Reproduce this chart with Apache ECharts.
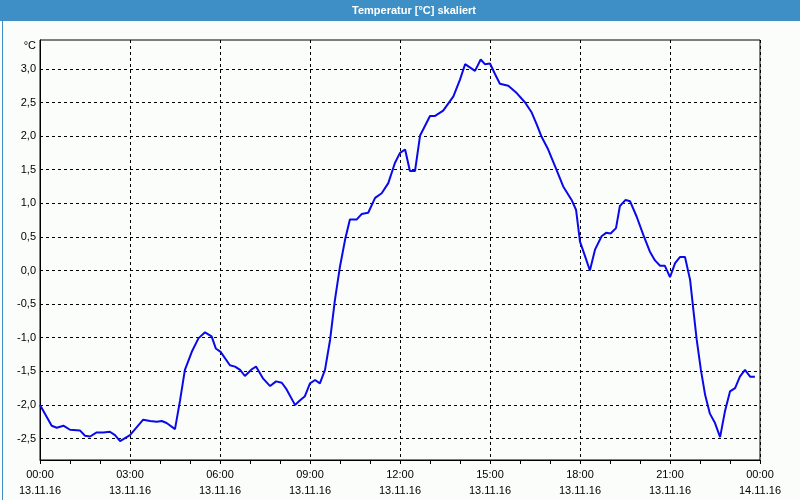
<!DOCTYPE html>
<html><head><meta charset="utf-8">
<script src="https://cdn.jsdelivr.net/npm/echarts@6/dist/echarts.min.js"></script>
<style>html,body{margin:0;padding:0;background:#fbfdfb;}#c{width:800px;height:500px;}</style>
</head><body><div id="c"></div>
<script>
// Hours since 13.11.16 00:00
const hours = [0,0.39,0.56,0.78,1.0,1.33,1.5,1.67,1.89,2.11,2.33,2.5,2.67,3.0,3.44,3.67,3.89,4.06,4.22,4.5,4.67,4.83,5.06,5.28,5.5,5.72,5.86,6.02,6.33,6.5,6.67,6.83,7.06,7.2,7.44,7.67,7.87,8.06,8.22,8.5,8.67,8.83,9.0,9.17,9.33,9.5,9.67,9.83,10.0,10.17,10.33,10.56,10.72,10.94,11.17,11.39,11.61,11.83,12.0,12.17,12.33,12.5,12.67,13.0,13.17,13.44,13.78,14.0,14.17,14.5,14.69,14.83,15.0,15.17,15.33,15.61,15.89,16.17,16.39,16.56,16.72,16.94,17.17,17.44,17.72,17.87,18.0,18.17,18.33,18.5,18.72,18.87,19.02,19.2,19.33,19.52,19.67,19.89,20.11,20.33,20.5,20.67,20.83,21.0,21.17,21.33,21.5,21.67,21.78,21.89,22.03,22.17,22.33,22.5,22.67,22.83,23.0,23.17,23.33,23.5,23.67,23.83];
const temps = [-2.0,-2.31,-2.34,-2.31,-2.37,-2.38,-2.46,-2.47,-2.41,-2.41,-2.40,-2.45,-2.54,-2.45,-2.22,-2.24,-2.25,-2.24,-2.27,-2.36,-1.93,-1.48,-1.21,-1.01,-0.92,-0.98,-1.16,-1.21,-1.41,-1.43,-1.48,-1.57,-1.47,-1.43,-1.61,-1.72,-1.65,-1.67,-1.77,-2.0,-1.93,-1.87,-1.68,-1.63,-1.68,-1.48,-1.03,-0.44,0.06,0.46,0.76,0.76,0.84,0.86,1.08,1.15,1.30,1.60,1.75,1.80,1.48,1.48,2.01,2.30,2.30,2.38,2.59,2.84,3.07,2.97,3.14,3.07,3.08,2.92,2.78,2.75,2.64,2.50,2.35,2.17,1.99,1.80,1.55,1.25,1.05,0.90,0.43,0.21,0.0,0.31,0.51,0.56,0.55,0.63,0.96,1.05,1.03,0.80,0.53,0.28,0.15,0.07,0.07,-0.10,0.11,0.20,0.20,-0.14,-0.59,-1.03,-1.48,-1.85,-2.13,-2.27,-2.48,-2.10,-1.80,-1.75,-1.58,-1.48,-1.58,-1.58];
const xTickTimes = ['00:00','03:00','06:00','09:00','12:00','15:00','18:00','21:00','00:00'];
const xTickDates = ['13.11.16','13.11.16','13.11.16','13.11.16','13.11.16','13.11.16','13.11.16','13.11.16','14.11.16'];
const yTicks = [-2.5,-2.0,-1.5,-1.0,-0.5,0.0,0.5,1.0,1.5,2.0,2.5,3.0];
const titleText = 'Temperatur [°C] skaliert';
const unitText = '°C';

const chart = echarts.init(document.getElementById('c'), null, {renderer:'canvas'});
const font = 'Liberation Sans';
chart.setOption({
  backgroundColor: '#fbfdfb',
  animation: false,
  graphic: [
    {type:'rect', left:0, top:0, shape:{width:800, height:21}, style:{fill:'#3d8fc6'}, z:10},
    {type:'rect', left:0, top:0, shape:{width:799, height:499}, style:{fill:'none', stroke:'#3d8fc6', lineWidth:1}, z:10},
    {type:'text', x:414, y:11, style:{text:titleText, fill:'#ffffff', font:'bold 11px "Liberation Sans"', align:'center', verticalAlign:'middle'}, z:11},
    {type:'text', x:36, y:46, style:{text:unitText, fill:'#000000', font:'11px "Liberation Sans"', align:'right', verticalAlign:'middle'}, z:11}
  ],
  grid: {left:40, right:40, top:40, bottom:40, show:true, borderColor:'#000', borderWidth:1, backgroundColor:'transparent'},
  xAxis: {
    type:'value', min:0, max:24, interval:3,
    axisLine:{show:true, onZero:false, lineStyle:{color:'#000', width:1}},
    axisTick:{show:true, length:4, lineStyle:{color:'#000'}},
    minorTick:{show:true, splitNumber:3, length:4, lineStyle:{color:'#000'}},
    splitLine:{show:true, lineStyle:{color:'#000', type:[3,3], width:1}},
    axisLabel:{
      margin:7, color:'#000', fontFamily:font, fontSize:11, lineHeight:16,
      formatter: function(v){ const i = Math.round(v/3); return xTickTimes[i] + '\n' + xTickDates[i]; }
    }
  },
  yAxis: {
    type:'value', min:-2.82, max:3.43,
    axisLine:{show:true, onZero:false, lineStyle:{color:'#000', width:1}},
    axisTick:{show:false, customValues:yTicks},
    splitLine:{show:true, lineStyle:{color:'#000', type:[3,3], width:1}},
    axisLabel:{
      customValues:yTicks, margin:4, color:'#000', fontFamily:font, fontSize:11,
      formatter: function(v){ return v.toFixed(1).replace('.', ','); }
    }
  },
  series: [{
    type:'line', showSymbol:false, symbol:'none', smooth:false,
    lineStyle:{color:'#0a0ae8', width:2},
    data: hours.map((h,i)=>[h, temps[i]])
  }]
});
</script></body></html>
